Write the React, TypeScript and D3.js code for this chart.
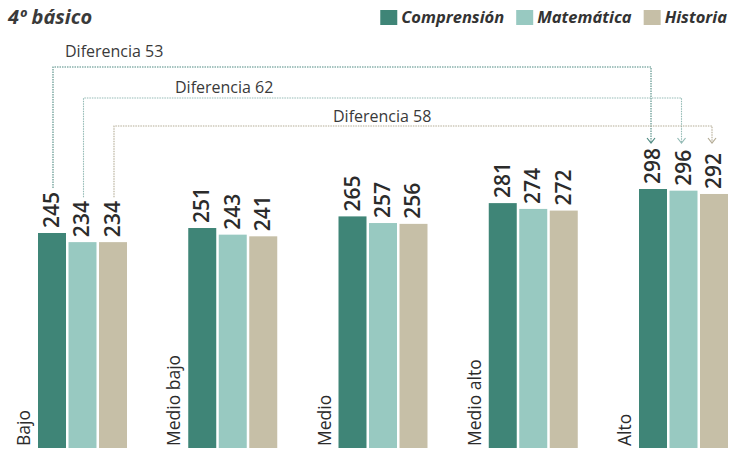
import React, { useEffect, useRef } from "react";
import * as d3 from "d3";

const categories = ["Bajo", "Medio bajo", "Medio", "Medio alto", "Alto"];
const seriesNames = ["Comprensión", "Matemática", "Historia"];
const comprension = [245, 251, 265, 281, 298];
const matematica = [234, 243, 257, 274, 296];
const historia = [234, 241, 256, 272, 292];
const diffLabels = ["Diferencia 53", "Diferencia 62", "Diferencia 58"];
const title = "4º básico";

const W = 730;
const H = 454;
const colors = ["#3f8577", "#98c9c1", "#c6bfa7"];
const lineColors = ["#4f8a82", "#93bab5", "#b3ab95"];
const FONT = "'Open Sans', 'Noto Sans', sans-serif";
// bracket layout: horizontal y, label x, label baseline y
const bracketLayout = [
  { y: 67, lx: 65, ly: 57 },
  { y: 98, lx: 175, ly: 93 },
  { y: 126, lx: 333, ly: 122 },
];

export default function App() {
  const ref = useRef<SVGSVGElement | null>(null);

  useEffect(() => {
    const svg = d3.select(ref.current);
    svg.selectAll("*").remove();
    const values = [comprension, matematica, historia];

    const x0 = d3.scaleBand<string>().domain(categories).range([38, 728]).paddingInner(0.4077).paddingOuter(0);
    const x1 = d3.scaleBand<string>().domain(seriesNames).range([0, x0.bandwidth()]).paddingInner(0.082).paddingOuter(0);
    const y = d3.scaleLinear().domain([-14, 298]).range([448, 189]);

    // title
    svg.append("text").attr("x", 8).attr("y", 24).text(title)
      .attr("font-family", FONT).attr("font-size", 20).attr("font-weight", 700).attr("font-style", "italic").attr("fill", "#3a3a3a");

    // legend (right aligned)
    const lg = svg.append("g");
    let cursor = 727;
    for (let i = seriesNames.length - 1; i >= 0; i--) {
      const t = lg.append("text").text(seriesNames[i]).attr("y", 23)
        .attr("font-family", FONT).attr("font-size", 16.5).attr("font-weight", 700).attr("font-style", "italic").attr("fill", "#333");
      const w = (t.node() as SVGTextElement).getComputedTextLength();
      t.attr("x", cursor - w);
      lg.append("rect").attr("x", cursor - w - 21).attr("y", 10).attr("width", 17).attr("height", 15).attr("fill", colors[i]);
      cursor = cursor - w - 21 - 12;
    }

    // bars
    categories.forEach((cat, ci) => {
      const g = svg.append("g").attr("transform", `translate(${x0(cat)},0)`);
      seriesNames.forEach((s, si) => {
        const v = values[si][ci];
        const bx = x1(s)!;
        g.append("rect").attr("x", bx).attr("y", y(v)).attr("width", x1.bandwidth()).attr("height", y(-14) - y(v)).attr("fill", colors[si]);
        const cx = bx + x1.bandwidth() / 2 + 7;
        const ty = y(v) - 5;
        g.append("text").text(String(v))
          .attr("transform", `translate(${cx},${ty}) rotate(-90)`)
          .attr("font-family", FONT).attr("font-size", 21).attr("font-weight", 600).attr("fill", "#2b2b2b");
      });
      g.append("text").text(cat)
        .attr("transform", `translate(-8,446) rotate(-90)`)
        .attr("font-family", FONT).attr("font-size", 17.5).attr("fill", "#2b2b2b");
    });

    // difference brackets
    const first = categories[0];
    const last = categories[categories.length - 1];
    const arrowTip = y(d3.max(values, (arr) => arr[arr.length - 1])!) - 46;
    diffLabels.forEach((lab, i) => {
      const s = seriesNames[i];
      const lx = x0(first)! + x1(s)! + x1.bandwidth() / 2 + 1;
      const rx = x0(last)! + x1(s)! + x1.bandwidth() / 2 - 2;
      const leftEnd = y(values[i][0]) - 5 - 40;
      const L = bracketLayout[i];
      const col = lineColors[i];
      svg.append("path")
        .attr("d", `M${lx},${leftEnd}V${L.y}H${rx}V${arrowTip}`)
        .attr("fill", "none").attr("stroke", col).attr("stroke-width", 1.1).attr("stroke-dasharray", "1.5 1");
      svg.append("path")
        .attr("d", `M${rx - 4},${arrowTip - 5}L${rx},${arrowTip}L${rx + 4},${arrowTip - 5}`)
        .attr("fill", "none").attr("stroke", col).attr("stroke-width", 1.2);
      svg.append("text").text(lab).attr("x", L.lx).attr("y", L.ly)
        .attr("font-family", FONT).attr("font-size", 16).attr("fill", "#3a3a3a");
    });
  }, []);

  return (
    <svg ref={ref} width={W} height={H} style={{ position: "absolute", left: 0, top: 0, background: "#fff" }} />
  );
}
